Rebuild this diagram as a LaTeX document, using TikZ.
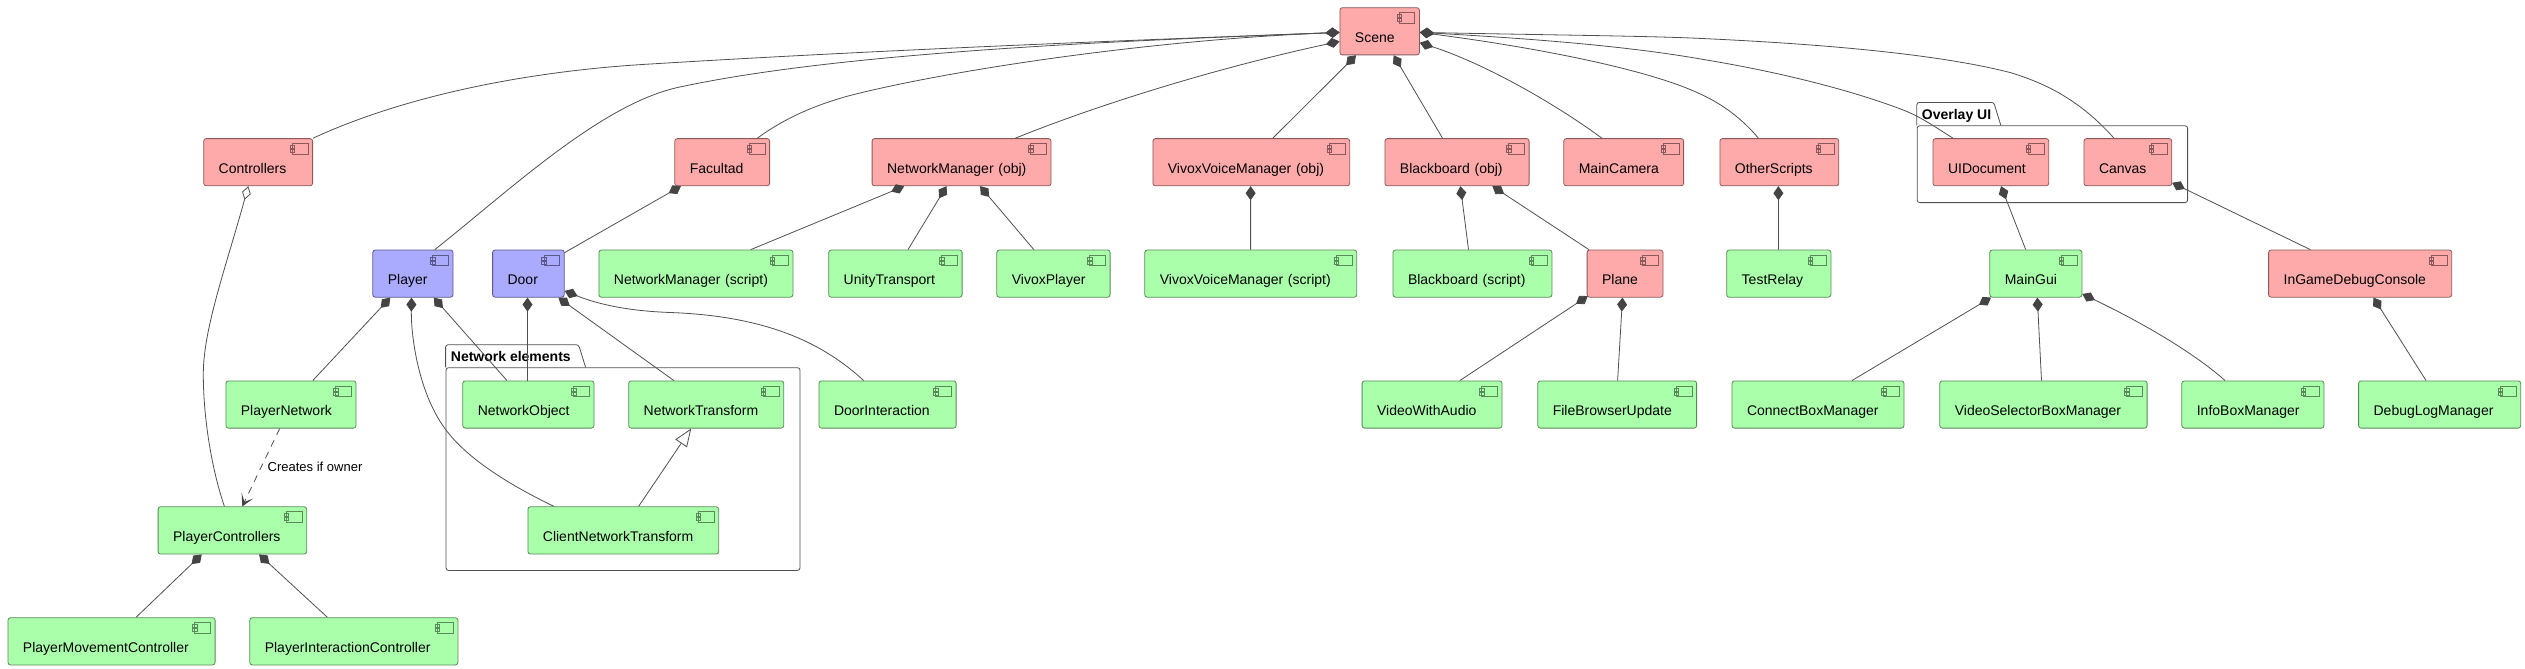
\documentclass[tikz,border=0pt]{standalone}
\usepackage{fontspec}
\setmainfont{Liberation Sans}
\usetikzlibrary{arrows.meta}
\definecolor{boxred}{HTML}{FFAAAA}
\definecolor{boxgreen}{HTML}{AAFFAA}
\definecolor{boxblue}{HTML}{AAAAFF}
\definecolor{edgered}{HTML}{8A5A5A}
\definecolor{edgegreen}{HTML}{5A8A5A}
\definecolor{edgeblue}{HTML}{5A5A8A}
\definecolor{linegray}{HTML}{505050}
\definecolor{tipgray}{HTML}{444444}

\begin{document}
\begin{tikzpicture}
[x=1pt, y=-1pt, line width=.8pt,
compbox/.style={anchor=north west, rectangle, rounded corners=2.5pt, draw=#1, inner xsep=15pt, inner ysep=0pt,
	text height=34.6pt, text depth=12.6pt, align=left, font=\fontsize{14}{16}\selectfont,
	path picture={
		\draw[draw=#1, sharp corners] ([xshift=-20.3pt,yshift=-5pt]path picture bounding box.north east) rectangle ([xshift=-4.7pt,yshift=-15.3pt]path picture bounding box.north east);
		\draw[draw=#1, sharp corners] ([xshift=-22.5pt,yshift=-7pt]path picture bounding box.north east) rectangle ([xshift=-18.1pt,yshift=-10pt]path picture bounding box.north east);
		\draw[draw=#1, sharp corners] ([xshift=-22.5pt,yshift=-11pt]path picture bounding box.north east) rectangle ([xshift=-18.1pt,yshift=-14pt]path picture bounding box.north east);
	}},
redbox/.style={compbox=edgered, fill=boxred},
greenbox/.style={compbox=edgegreen, fill=boxgreen},
bluebox/.style={compbox=edgeblue, fill=boxblue},
pkgbox/.style={anchor=north west, rectangle, rounded corners=2.5pt, draw=linegray, inner sep=0pt},
pkgtitle/.style={anchor=base west, inner sep=0pt, font=\fontsize{14}{16}\selectfont\bfseries},
composite/.style={draw=linegray, {Diamond[length=14pt,width=10pt,color=tipgray]}-},
aggregate/.style={draw=linegray, {Diamond[length=14pt,width=9pt,fill=white]}-},
extends/.style={draw=linegray, -{Triangle[length=18pt,width=14pt,fill=white]}},
creates/.style={draw=linegray, dashed, dash pattern=on 7pt off 6pt, -{Stealth[length=12pt,width=13pt,inset=7pt,color=tipgray]}}]

\path[use as bounding box, fill=white] (0,0) rectangle (2525,669);

% packages
\node[pkgbox, minimum width=354pt, minimum height=202.7pt] (netpkg) at (445.6,367.3) {};
\draw[draw=linegray, rounded corners=2.5pt] (netpkg.north west) -- ([yshift=22.6pt]netpkg.north west) -- ([xshift=133pt,yshift=22.6pt]netpkg.north west) -- ([xshift=140pt]netpkg.north west);
\node[pkgtitle] (nettitle) at (450.5,361) {Network elements};
\node[pkgbox, minimum width=270.4pt, minimum height=76.8pt] (overlaypkg) at (1916.8,125.4) {};
\draw[draw=linegray, rounded corners=2.5pt] (overlaypkg.north west) -- ([yshift=23pt]overlaypkg.north west) -- ([xshift=77pt,yshift=23pt]overlaypkg.north west) -- ([xshift=84pt]overlaypkg.north west);
\node[pkgtitle] (overlaytitle) at (1921.5,119) {Overlay UI};

% first rows
\node[redbox, text width=49.5pt] (scene) at (1339.5,7.3) {Scene};
\node[redbox, text width=78.9pt] (controllers) at (203.3,138.2) {Controllers};
\node[redbox, text width=64.8pt] (facultad) at (674.4,138.2) {Facultad};
\node[redbox, text width=148.9pt] (netmanager) at (871.7,138.2) {NetworkManager (obj)};
\node[redbox, text width=166.8pt] (vivoxobj) at (1152.5,138.2) {VivoxVoiceManager (obj)};
\node[redbox, text width=114.2pt] (boardobj) at (1384.5,138.2) {Blackboard (obj)};
\node[redbox, text width=89.8pt] (maincam) at (1563.4,138.2) {MainCamera};
\node[redbox, text width=88.9pt] (otherscripts) at (1719.5,138.2) {OtherScripts};
\node[redbox, text width=85.7pt] (uidoc) at (1932.6,138.2) {UIDocument};
\node[redbox, text width=57.8pt] (canvas) at (2083.6,138.2) {Canvas};

\node[bluebox, text width=50.2pt] (player) at (372.4,249.6) {Player};
\node[bluebox, text width=41.6pt] (door) at (492.2,249.6) {Door};
\node[greenbox, text width=164pt] (nmscript) at (598.5,249.6) {NetworkManager (script)};
\node[greenbox, text width=103.4pt] (unity) at (828.3,249.6) {UnityTransport};
\node[greenbox, text width=83.3pt] (vivoxplayer) at (996.4,249.6) {VivoxPlayer};
\node[greenbox, text width=181.9pt] (vivoxscript) at (1144.4,249.6) {VivoxVoiceManager (script)};
\node[greenbox, text width=128.9pt] (boardscript) at (1392.6,249.6) {Blackboard (script)};
\node[redbox, text width=45.9pt] (plane) at (1586.7,249.6) {Plane};
\node[greenbox, text width=74.2pt] (testrelay) at (1726.3,249.6) {TestRelay};
\node[greenbox, text width=62.1pt] (maingui) at (1989.4,249.6) {MainGui};
\node[redbox, text width=153.1pt] (ingame) at (2268.2,249.6) {InGameDebugConsole};

\node[greenbox, text width=100.1pt] (playernet) at (225.5,380.5) {PlayerNetwork};
\node[greenbox, text width=101.2pt] (netobject) at (462.4,380.5) {NetworkObject};
\node[greenbox, text width=125pt] (nettransform) at (628.3,380.5) {NetworkTransform};
\node[greenbox, text width=107.1pt] (doorinter) at (818.6,380.5) {DoorInteraction};
\node[greenbox, text width=109.9pt] (video) at (1361.7,380.5) {VideoWithAudio};
\node[greenbox, text width=128.8pt] (filebrowser) at (1537.4,380.5) {FileBrowserUpdate};
\node[greenbox, text width=142pt] (connect) at (1731.6,380.5) {ConnectBoxManager};
\node[greenbox, text width=177.3pt] (videosel) at (1939.4,380.5) {VideoSelectorBoxManager};
\node[greenbox, text width=112.1pt] (infobox) at (2181.4,380.5) {InfoBoxManager};
\node[greenbox, text width=132.1pt] (debuglog) at (2358.2,380.5) {DebugLogManager};

\node[greenbox, text width=118.6pt] (playerctrl) at (157.7,506.4) {PlayerControllers};
\node[greenbox, text width=160.8pt] (clientnet) at (527.5,506.4) {ClientNetworkTransform};
\node[greenbox, text width=177.1pt] (pmove) at (7.6,617.3) {PlayerMovementController};
\node[greenbox, text width=178.1pt] (pinter) at (249.4,617.3) {PlayerInteractionController};

% scene links
\draw[composite] ([yshift=-25.1pt]scene.north west) .. controls (1110,41) and (880,50) .. (650.5,64) .. controls (520,71.5) and (400,98) .. (controllers.north east);
\draw[composite] ([yshift=-25.1pt]scene.north west) .. controls (1150,40) and (850,50) .. (677.6,87.5) .. controls (600,105) and (510,190) .. ([xshift=62.4pt]player.north west);
\draw[composite] ([yshift=-25.1pt]scene.north west) .. controls (1150,40) and (950,70) .. (850,95.5) .. controls (815,105) and (785,118) .. ([xshift=82.9pt]facultad.north west);
\draw[composite] ([yshift=-34.1pt]scene.north west) .. controls (1230,65) and (1110,100) .. ([xshift=143.6pt]netmanager.north west);
\draw[composite] ([xshift=16.5pt]scene.south west) -- ([xshift=120.3pt]vivoxobj.north west);
\draw[composite] ([xshift=54.2pt]scene.south west) -- ([xshift=58pt]boardobj.north west);
\draw[composite] ([yshift=-35.4pt]scene.north east) .. controls (1480,62) and (1550,100) .. ([xshift=38.5pt]maincam.north west);
\draw[composite] ([yshift=-25.1pt]scene.north east) .. controls (1540,48) and (1650,70) .. (1700,93.9) .. controls (1725,105) and (1745,122) .. ([xshift=38.9pt]otherscripts.north west);
\draw[composite] ([yshift=-25.1pt]scene.north east) .. controls (1520,38) and (1620,45) .. (1700,58.9) .. controls (1780,72) and (1850,90) .. (1900,108.8) .. controls (1920,116) and (1935,127) .. ([xshift=20.4pt]uidoc.north west);
\draw[composite] ([yshift=-25.1pt]scene.north east) .. controls (1550,35) and (1650,36) .. (1700,38.4) .. controls (1800,43) and (1930,52) .. (2010,72.5) .. controls (2045,83) and (2080,100) .. ([xshift=30.4pt]canvas.north west);

% second level
\draw[aggregate] ([xshift=45pt]controllers.south west) .. controls (225,270) and (203,330) .. (203.3,375.4) .. controls (203.5,420) and (212,470) .. ([xshift=66.7pt]playerctrl.north west);
\draw[composite] ([xshift=6.5pt]facultad.south west) -- ([yshift=-3pt]door.north east);
\draw[composite] ([xshift=32.5pt]netmanager.south west) -- ([xshift=152.3pt]nmscript.north west);
\draw[composite] ([xshift=74.8pt]netmanager.south west) -- ([xshift=79.7pt]unity.north west);
\draw[composite] ([xshift=108.4pt]netmanager.south west) -- ([xshift=37.4pt]vivoxplayer.north west);
\draw[composite] ([xshift=98.1pt]vivoxobj.south west) -- ([xshift=106.2pt]vivoxscript.north west);
\draw[composite] ([xshift=75.9pt]boardobj.south west) -- ([xshift=75.9pt]boardscript.north west);
\draw[composite] ([xshift=107.9pt]boardobj.south west) -- ([xshift=2.2pt]plane.north west);
\draw[composite] ([xshift=1pt,yshift=1.5pt]plane.south west) -- ([xshift=98.2pt]video.north west);
\draw[composite] ([xshift=35.8pt]plane.south west) -- ([xshift=80.2pt]filebrowser.north west);
\draw[composite] ([xshift=58.9pt]otherscripts.south west) -- ([xshift=52.1pt]testrelay.north west);
\draw[composite] ([xshift=68.4pt]uidoc.south west) -- ([xshift=36.3pt]maingui.north west);
\draw[composite] ([yshift=3.4pt]canvas.south east) -- ([xshift=42.1pt]ingame.north west);
\draw[composite] ([xshift=1.6pt]maingui.south west) -- ([xshift=120.4pt]connect.north west);
\draw[composite] ([xshift=47.9pt]maingui.south west) -- ([xshift=102.1pt]videosel.north west);
\draw[composite] ([yshift=3.6pt]maingui.south east) .. controls (2120,312) and (2185,345) .. ([xshift=43.6pt]infobox.north west);
\draw[composite] ([xshift=105.3pt]ingame.south west) -- ([xshift=67.8pt]debuglog.north west);

% player and door
\draw[composite] ([xshift=17.9pt]player.south west) -- ([xshift=87.3pt]playernet.north west);
\draw[composite] ([xshift=61.3pt]player.south west) -- ([xshift=44.5pt]netobject.north west);
\draw[composite] ([xshift=39.1pt]player.south west) .. controls (411,340) and (420,400) .. (450,435) .. controls (475,465) and (520,490) .. ([xshift=26.5pt]clientnet.north west);
\draw[composite] ([xshift=35.3pt]door.south west) -- ([xshift=65.1pt]netobject.north west);
\draw[composite] ([xshift=66.2pt]door.south west) -- ([xshift=45.5pt]nettransform.north west);
\draw[composite] ([yshift=6.7pt]door.south east) .. controls (600,305) and (630,311) .. (670,312.5) .. controls (770,316) and (825,345) .. ([xshift=45pt]doorinter.north west);
\draw[extends] ([xshift=111.1pt]clientnet.north west) -- ([xshift=62.9pt]nettransform.south west);
\draw[creates] ([xshift=54.2pt]playernet.south west) -- ([xshift=84.6pt]playerctrl.north west);
\node[anchor=base west, inner sep=0pt, font=\fontsize{13}{15}\selectfont] (ownerlabel) at (267.3,471.8) {Creates if owner};
\draw[composite] ([xshift=44pt]playerctrl.south west) -- ([xshift=128.5pt]pmove.north west);
\draw[composite] ([xshift=101.4pt]playerctrl.south west) -- ([xshift=78pt]pinter.north west);
\end{tikzpicture}
\end{document}
